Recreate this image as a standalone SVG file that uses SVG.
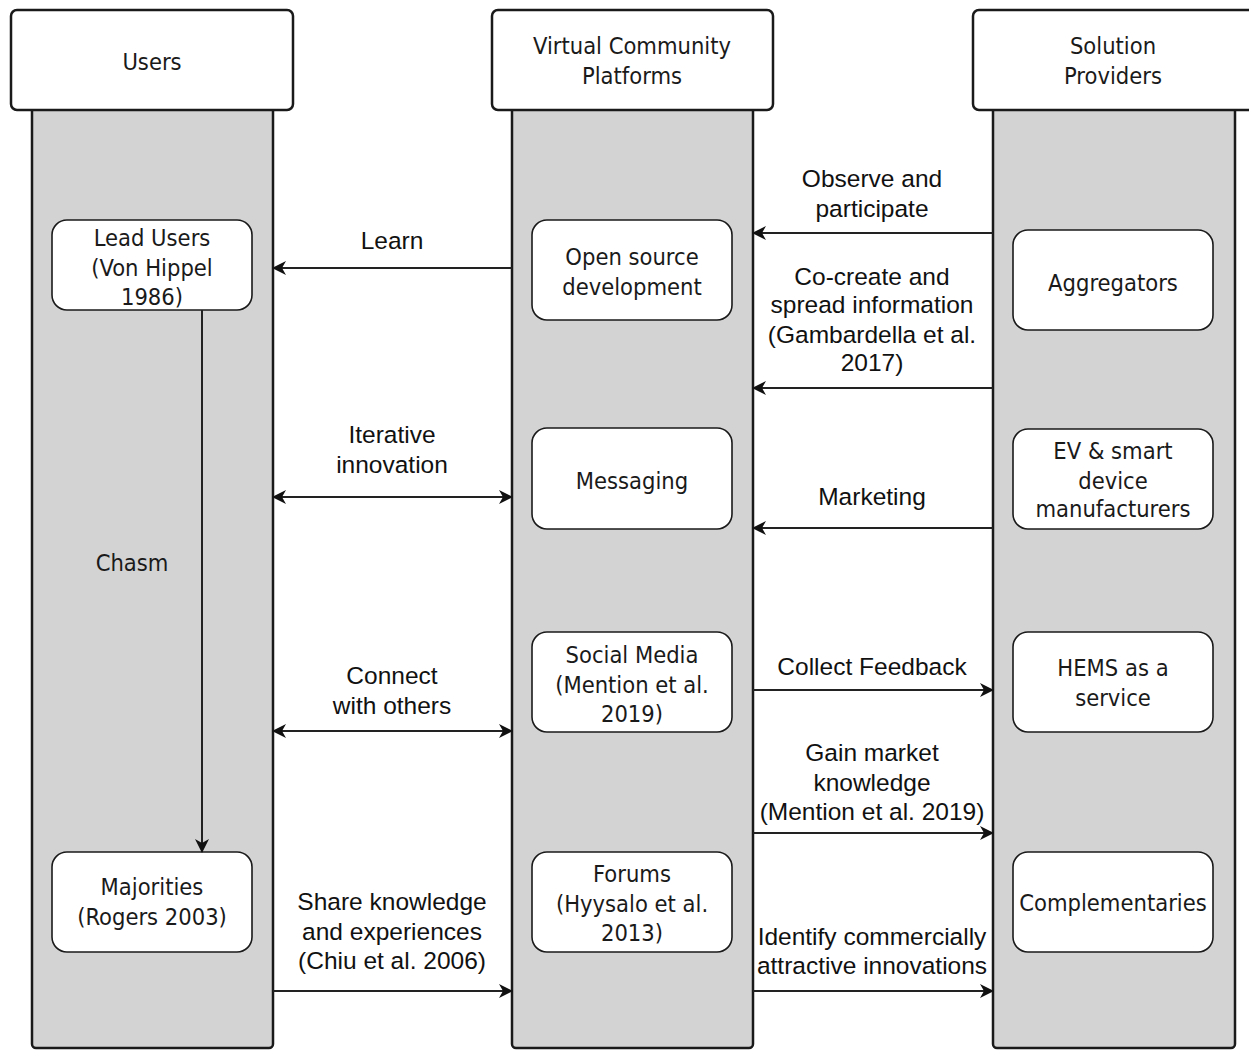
<svg xmlns="http://www.w3.org/2000/svg" width="1249" height="1051" viewBox="0 0 1249 1051">
  <style>
    .lane { fill: #d3d3d3; stroke: #1a1a1a; stroke-width: 2.5; }
    .head { fill: #ffffff; stroke: #1a1a1a; stroke-width: 2.5; }
    .node { fill: #ffffff; stroke: #1a1a1a; stroke-width: 1.6; }
    .nt { font-family: "DejaVu Sans Condensed", "DejaVu Sans", sans-serif; font-stretch: condensed; font-size: 23.5px; fill: #1a1a1a; text-anchor: middle; }
    .lt { font-family: "Liberation Sans", Arial, sans-serif; font-size: 24.5px; fill: #111; text-anchor: middle; }
    .edge { fill: none; stroke: #222; stroke-width: 2; }
  </style>
  <defs>
    <marker id="arrowEnd" viewBox="0 0 14 14" refX="13" refY="7" markerWidth="14" markerHeight="14" markerUnits="userSpaceOnUse" orient="auto">
      <path d="M0,0 L14,7 L0,14 L4,7 z" fill="#111"/>
    </marker>
    <marker id="arrowStart" viewBox="0 0 14 14" refX="1" refY="7" markerWidth="14" markerHeight="14" markerUnits="userSpaceOnUse" orient="auto">
      <path d="M14,0 L0,7 L14,14 L10,7 z" fill="#111"/>
    </marker>
  </defs>

  <rect width="1249" height="1051" fill="#ffffff"/>

  <!-- swimlanes -->
  <g id="lane-users">
    <rect class="lane" x="32" y="100" width="241" height="948" rx="4"/>
    <rect class="head" x="11" y="10" width="282" height="100" rx="6"/>
    <text class="nt" x="152" y="70">Users</text>
  </g>
  <g id="lane-platforms">
    <rect class="lane" x="512" y="100" width="241" height="948" rx="4"/>
    <rect class="head" x="492" y="10" width="281" height="100" rx="6"/>
    <text class="nt" x="632" y="54">Virtual Community</text>
    <text class="nt" x="632" y="84">Platforms</text>
  </g>
  <g id="lane-providers">
    <rect class="lane" x="993" y="100" width="242" height="948" rx="4"/>
    <rect class="head" x="973" y="10" width="282" height="100" rx="6"/>
    <text class="nt" x="1113" y="54">Solution</text>
    <text class="nt" x="1113" y="84">Providers</text>
  </g>

  <!-- users -->
  <g id="node-lead-users">
    <rect class="node" x="52" y="220" width="200" height="90" rx="15"/>
    <text class="nt" x="152" y="246">Lead Users</text>
    <text class="nt" x="152" y="276">(Von Hippel</text>
    <text class="nt" x="152" y="305">1986)</text>
  </g>
  <g id="node-majorities">
    <rect class="node" x="52" y="852" width="200" height="100" rx="15"/>
    <text class="nt" x="152" y="895">Majorities</text>
    <text class="nt" x="152" y="925">(Rogers 2003)</text>
  </g>
  <g id="label-chasm">
    <text class="nt" x="132" y="571">Chasm</text>
  </g>

  <!-- platforms -->
  <g id="node-open-source">
    <rect class="node" x="532" y="220" width="200" height="100" rx="15"/>
    <text class="nt" x="632" y="265">Open source</text>
    <text class="nt" x="632" y="295">development</text>
  </g>
  <g id="node-messaging">
    <rect class="node" x="532" y="428" width="200" height="101" rx="15"/>
    <text class="nt" x="632" y="489">Messaging</text>
  </g>
  <g id="node-social-media">
    <rect class="node" x="532" y="632" width="200" height="100" rx="15"/>
    <text class="nt" x="632" y="663">Social Media</text>
    <text class="nt" x="632" y="693">(Mention et al.</text>
    <text class="nt" x="632" y="722">2019)</text>
  </g>
  <g id="node-forums">
    <rect class="node" x="532" y="852" width="200" height="100" rx="15"/>
    <text class="nt" x="632" y="882">Forums</text>
    <text class="nt" x="632" y="912">(Hyysalo et al.</text>
    <text class="nt" x="632" y="941">2013)</text>
  </g>

  <!-- providers -->
  <g id="node-aggregators">
    <rect class="node" x="1013" y="230" width="200" height="100" rx="15"/>
    <text class="nt" x="1113" y="291">Aggregators</text>
  </g>
  <g id="node-ev-manufacturers">
    <rect class="node" x="1013" y="429" width="200" height="100" rx="15"/>
    <text class="nt" x="1113" y="459">EV &amp; smart</text>
    <text class="nt" x="1113" y="489">device</text>
    <text class="nt" x="1113" y="517">manufacturers</text>
  </g>
  <g id="node-hems">
    <rect class="node" x="1013" y="632" width="200" height="100" rx="15"/>
    <text class="nt" x="1113" y="676">HEMS as a</text>
    <text class="nt" x="1113" y="706">service</text>
  </g>
  <g id="node-complementaries">
    <rect class="node" x="1013" y="852" width="200" height="100" rx="15"/>
    <text class="nt" x="1113" y="911">Complementaries</text>
  </g>

  <!-- connectors -->
  <g id="connectors">
    <path class="edge" d="M202,310 V852" marker-end="url(#arrowEnd)"/>
    <path class="edge" d="M512,268 H273" marker-end="url(#arrowEnd)"/>
    <path class="edge" d="M273,497 H512" marker-start="url(#arrowStart)" marker-end="url(#arrowEnd)"/>
    <path class="edge" d="M273,731 H512" marker-start="url(#arrowStart)" marker-end="url(#arrowEnd)"/>
    <path class="edge" d="M273,991 H512" marker-end="url(#arrowEnd)"/>
    <path class="edge" d="M993,233 H753" marker-end="url(#arrowEnd)"/>
    <path class="edge" d="M993,388 H753" marker-end="url(#arrowEnd)"/>
    <path class="edge" d="M993,528 H753" marker-end="url(#arrowEnd)"/>
    <path class="edge" d="M753,690 H993" marker-end="url(#arrowEnd)"/>
    <path class="edge" d="M753,833 H993" marker-end="url(#arrowEnd)"/>
    <path class="edge" d="M753,991 H993" marker-end="url(#arrowEnd)"/>
  </g>

  <!-- connector labels -->
  <g id="connector-labels">
    <text class="lt" x="392" y="249">Learn</text>
    <text class="lt" x="392" y="443">Iterative</text>
    <text class="lt" x="392" y="473">innovation</text>
    <text class="lt" x="392" y="684">Connect</text>
    <text class="lt" x="392" y="714">with others</text>
    <text class="lt" x="392" y="910">Share knowledge</text>
    <text class="lt" x="392" y="940">and experiences</text>
    <text class="lt" x="392" y="969">(Chiu et al. 2006)</text>
    <text class="lt" x="872" y="187">Observe and</text>
    <text class="lt" x="872" y="217">participate</text>
    <text class="lt" x="872" y="285">Co-create and</text>
    <text class="lt" x="872" y="313">spread information</text>
    <text class="lt" x="872" y="343">(Gambardella et al.</text>
    <text class="lt" x="872" y="371">2017)</text>
    <text class="lt" x="872" y="505">Marketing</text>
    <text class="lt" x="872" y="675">Collect Feedback</text>
    <text class="lt" x="872" y="761">Gain market</text>
    <text class="lt" x="872" y="791">knowledge</text>
    <text class="lt" x="872" y="820">(Mention et al. 2019)</text>
    <text class="lt" x="872" y="945">Identify commercially</text>
    <text class="lt" x="872" y="974">attractive innovations</text>
  </g>
</svg>
